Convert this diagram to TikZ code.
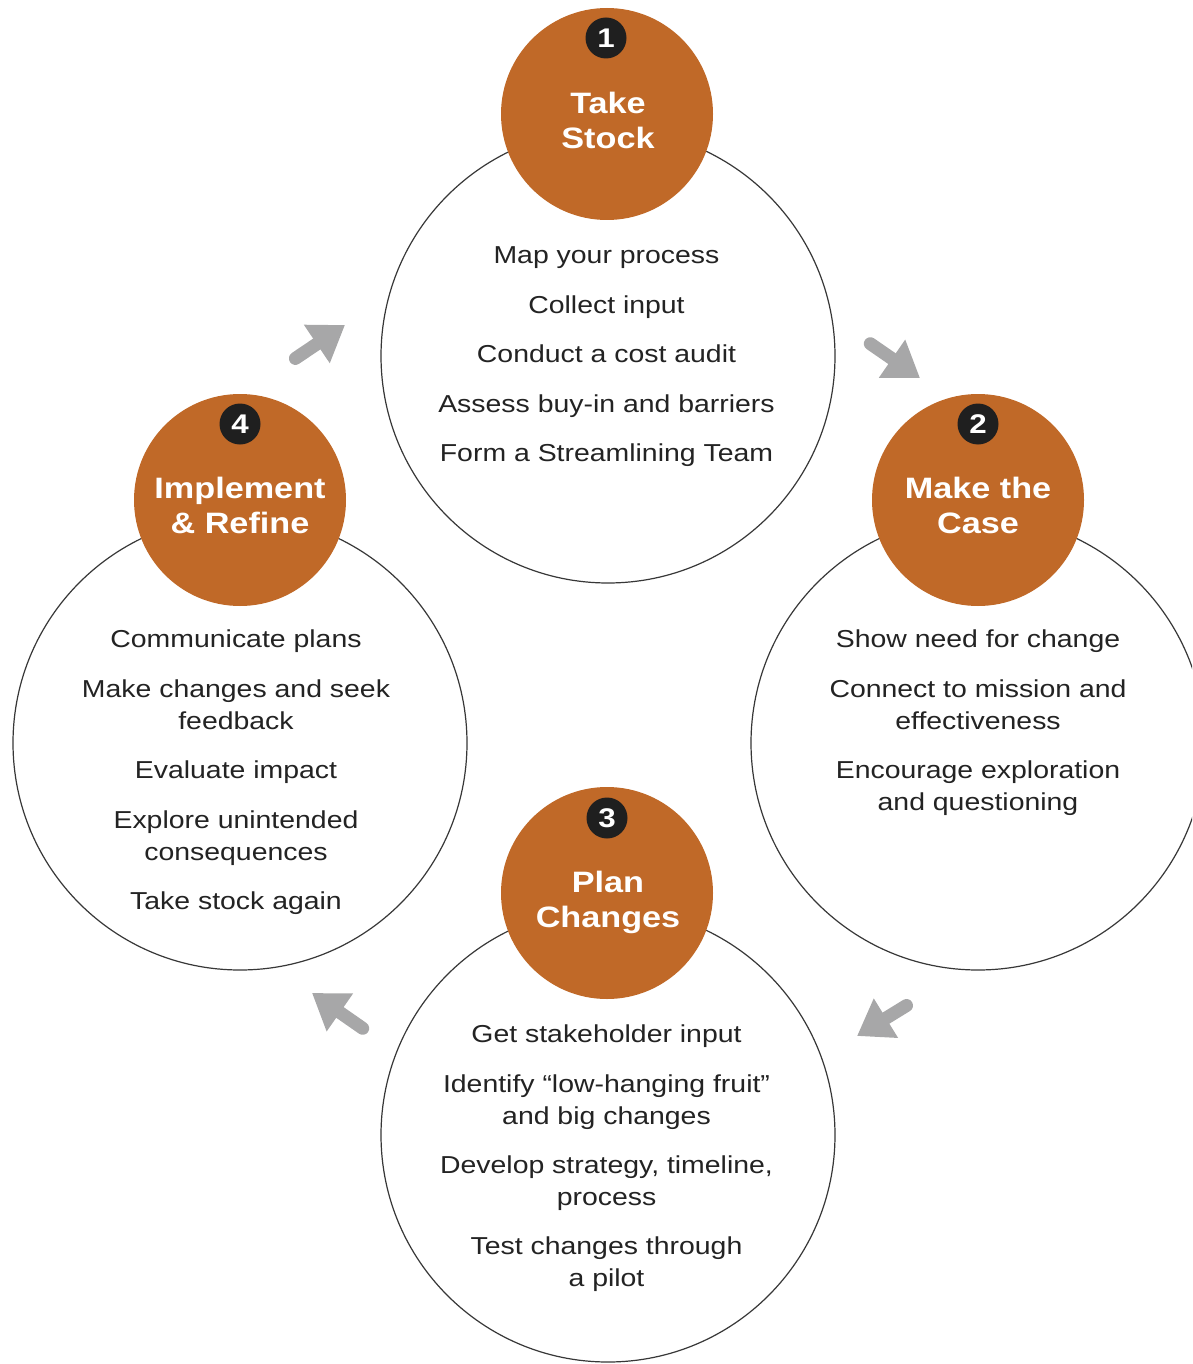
\documentclass[tikz,border=0pt]{standalone}
\usepackage{fontspec}
\setmainfont{Liberation Sans}[FakeStretch=1.16]
\usetikzlibrary{arrows.meta}
\definecolor{orangefill}{RGB}{192,105,40}
\definecolor{txtgray}{RGB}{35,35,35}
\definecolor{arrowgray}{RGB}{167,167,168}
\definecolor{ringline}{RGB}{55,55,55}
\begin{document}
\begin{tikzpicture}[x=1pt,y=-1pt,
  ring/.style={circle, draw=ringline, line width=1.2pt, fill=white, minimum size=454pt, inner sep=0pt},
  stage/.style={circle, fill=orangefill, minimum size=212pt, inner sep=0pt},
  badge/.style={circle, fill=black!88, minimum size=41pt, inner sep=0pt, text=white, font=\fontsize{27}{27}\selectfont\bfseries},
  stagetitle/.style={anchor=base, text=white, font=\fontsize{29.5}{35}\selectfont\bfseries, inner sep=0pt},
  itemtxt/.style={anchor=base, text=txtgray, font=\fontsize{24.5}{32}\selectfont, inner sep=0pt},
  flow/.style={draw=arrowgray, line width=13pt, line cap=round, -{Triangle[length=34pt,width=44pt]}}
]
\useasboundingbox (0,0) rectangle (1192,1364);
\clip (0,0) rectangle (1192,1364);

% big rings
\node[ring] (r1) at (608,356) {};
\node[ring] (r2) at (978,743) {};
\node[ring] (r3) at (608,1135) {};
\node[ring] (r4) at (240,743) {};

% orange stage circles
\node[stage] (s1) at (607,114) {};
\node[stage] (s2) at (978,500) {};
\node[stage] (s3) at (607,893) {};
\node[stage] (s4) at (240,500) {};

% badges
\node[badge] (b1) at (606,38) {1};
\node[badge] (b2) at (978,424) {2};
\node[badge] (b3) at (607,818) {3};
\node[badge] (b4) at (240,424) {4};

% stage titles
\node[stagetitle] (t1a) at (608,113.5) {Take};
\node[stagetitle] (t1b) at (608,148.5) {Stock};
\node[stagetitle] (t2a) at (978,498) {Make the};
\node[stagetitle] (t2b) at (978,533) {Case};
\node[stagetitle] (t3a) at (608,892) {Plan};
\node[stagetitle] (t3b) at (608,927) {Changes};
\node[stagetitle] (t4a) at (240,498) {Implement};
\node[stagetitle] (t4b) at (240,533) {\& Refine};

% items: Take Stock
\node[itemtxt] (i11) at (606.5,263.5) {Map your process};
\node[itemtxt] (i12) at (606.5,313) {Collect input};
\node[itemtxt] (i13) at (606.5,362.5) {Conduct a cost audit};
\node[itemtxt] (i14) at (606.5,412) {Assess buy-in and barriers};
\node[itemtxt] (i15) at (606.5,461.5) {Form a Streamlining Team};

% items: Make the Case
\node[itemtxt] (i21) at (978,647.5) {Show need for change};
\node[itemtxt] (i22) at (978,697.5) {Connect to mission and};
\node[itemtxt] (i23) at (978,729.5) {effectiveness};
\node[itemtxt] (i24) at (978,778.5) {Encourage exploration};
\node[itemtxt] (i25) at (978,810.5) {and questioning};

% items: Plan Changes
\node[itemtxt] (i31) at (606.5,1042.5) {Get stakeholder input};
\node[itemtxt] (i32) at (606.5,1092.5) {Identify “low-hanging fruit”};
\node[itemtxt] (i33) at (606.5,1124.5) {and big changes};
\node[itemtxt] (i34) at (606.5,1173.5) {Develop strategy, timeline,};
\node[itemtxt] (i35) at (606.5,1205.5) {process};
\node[itemtxt] (i36) at (606.5,1254.5) {Test changes through};
\node[itemtxt] (i37) at (606.5,1286.5) {a pilot};

% items: Implement & Refine
\node[itemtxt] (i41) at (236,647.5) {Communicate plans};
\node[itemtxt] (i42) at (236,697.5) {Make changes and seek};
\node[itemtxt] (i43) at (236,729.5) {feedback};
\node[itemtxt] (i44) at (236,778.5) {Evaluate impact};
\node[itemtxt] (i45) at (236,828.5) {Explore unintended};
\node[itemtxt] (i46) at (236,860.5) {consequences};
\node[itemtxt] (i47) at (236,909.5) {Take stock again};

% flow arrows
\coordinate (a1s) at (295.4,358.4);
\coordinate (a1e) at (345,325);
\coordinate (a2s) at (870.3,343.7);
\coordinate (a2e) at (920,378);
\coordinate (a3s) at (906.5,1005.5);
\coordinate (a3e) at (857,1036);
\coordinate (a4s) at (362.7,1028.3);
\coordinate (a4e) at (312,993);
\draw[flow] (a1s) -- (a1e);
\draw[flow] (a2s) -- (a2e);
\draw[flow] (a3s) -- (a3e);
\draw[flow] (a4s) -- (a4e);
\end{tikzpicture}
\end{document}
